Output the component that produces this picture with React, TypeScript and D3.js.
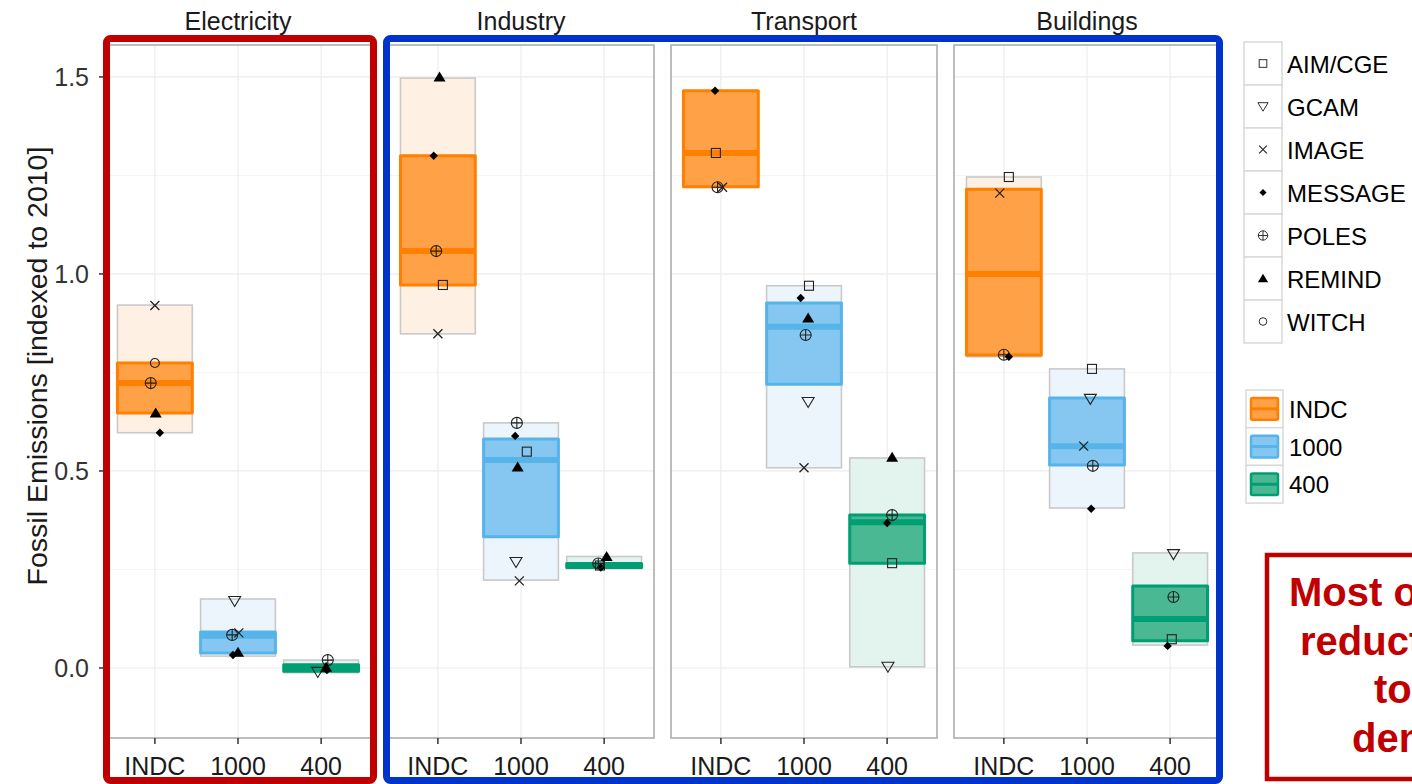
import React from 'react';
import * as d3 from 'd3';

// ---- data ----
const sectors = ['Electricity', 'Industry', 'Transport', 'Buildings'];
const scenarios = ['INDC', '1000', '400'];
const models = ['AIM/CGE', 'GCAM', 'IMAGE', 'MESSAGE', 'POLES', 'REMIND', 'WITCH'];
const yTicks = [0, 0.5, 1.0, 1.5];
const yMinor = [0.25, 0.75, 1.25];

// Box statistics per scenario (INDC, 1000, 400): [min, q1, median, q3, max]
const electricityBoxes = [
  [0.597, 0.647, 0.723, 0.774, 0.921],
  [0.03, 0.038, 0.082, 0.091, 0.175],
  [-0.012, -0.008, 0.0, 0.008, 0.02],
];
const industryBoxes = [
  [0.848, 0.972, 1.058, 1.3, 1.497],
  [0.223, 0.333, 0.528, 0.581, 0.622],
  [0.252, 0.255, 0.259, 0.265, 0.283],
];
const transportBoxes = [
  [1.22, 1.221, 1.307, 1.465, 1.465],
  [0.508, 0.72, 0.866, 0.926, 0.97],
  [0.003, 0.266, 0.37, 0.388, 0.533],
];
const buildingsBoxes = [
  [0.79, 0.794, 1.0, 1.215, 1.246],
  [0.406, 0.515, 0.563, 0.685, 0.759],
  [0.058, 0.069, 0.124, 0.208, 0.292],
];
const sectorBoxes = [electricityBoxes, industryBoxes, transportBoxes, buildingsBoxes];

// Model results: [scenario, model, value, jitter (fraction of a category step)]
type Pt = [string, string, number, number];
const electricityPoints: Pt[] = [
  ['INDC', 'IMAGE', 0.92, 0], ['INDC', 'WITCH', 0.774, 0], ['INDC', 'POLES', 0.723, -0.05],
  ['INDC', 'REMIND', 0.647, 0.01], ['INDC', 'MESSAGE', 0.597, 0.06],
  ['1000', 'GCAM', 0.17, -0.04], ['1000', 'IMAGE', 0.089, 0.01], ['1000', 'POLES', 0.084, -0.07],
  ['1000', 'REMIND', 0.04, 0.0], ['1000', 'MESSAGE', 0.033, -0.06],
  ['400', 'POLES', 0.02, 0.08], ['400', 'GCAM', -0.01, -0.04], ['400', 'MESSAGE', -0.005, 0.07],
  ['400', 'REMIND', 0.002, 0.06],
];
const industryPoints: Pt[] = [
  ['INDC', 'REMIND', 1.5, 0.02], ['INDC', 'MESSAGE', 1.3, -0.05], ['INDC', 'POLES', 1.058, -0.02],
  ['INDC', 'AIM/CGE', 0.972, 0.06], ['INDC', 'IMAGE', 0.848, 0],
  ['1000', 'POLES', 0.622, -0.05], ['1000', 'MESSAGE', 0.589, -0.07], ['1000', 'AIM/CGE', 0.549, 0.07],
  ['1000', 'REMIND', 0.51, -0.04], ['1000', 'GCAM', 0.269, -0.06], ['1000', 'IMAGE', 0.221, -0.02],
  ['400', 'AIM/CGE', 0.26, -0.05], ['400', 'MESSAGE', 0.255, -0.04], ['400', 'POLES', 0.265, -0.07],
  ['400', 'REMIND', 0.283, 0.03],
];
const transportPoints: Pt[] = [
  ['INDC', 'MESSAGE', 1.465, -0.07], ['INDC', 'AIM/CGE', 1.307, -0.06], ['INDC', 'POLES', 1.22, -0.04],
  ['INDC', 'IMAGE', 1.22, 0.02],
  ['1000', 'AIM/CGE', 0.97, 0.06], ['1000', 'MESSAGE', 0.939, -0.04], ['1000', 'REMIND', 0.888, 0.05],
  ['1000', 'POLES', 0.845, 0.02], ['1000', 'GCAM', 0.675, 0.05], ['1000', 'IMAGE', 0.508, 0],
  ['400', 'REMIND', 0.535, 0.06], ['400', 'POLES', 0.388, 0.06], ['400', 'MESSAGE', 0.368, 0],
  ['400', 'AIM/CGE', 0.266, 0.06], ['400', 'GCAM', 0.003, 0.01],
];
const buildingsPoints: Pt[] = [
  ['INDC', 'AIM/CGE', 1.246, 0.06], ['INDC', 'IMAGE', 1.205, -0.05], ['INDC', 'POLES', 0.795, 0],
  ['INDC', 'MESSAGE', 0.79, 0.06],
  ['1000', 'AIM/CGE', 0.759, 0.06], ['1000', 'GCAM', 0.683, 0.04], ['1000', 'IMAGE', 0.563, -0.04],
  ['1000', 'POLES', 0.513, 0.07], ['1000', 'MESSAGE', 0.404, 0.05],
  ['400', 'GCAM', 0.289, 0.04], ['400', 'POLES', 0.18, 0.04], ['400', 'AIM/CGE', 0.073, 0.02],
  ['400', 'MESSAGE', 0.056, -0.03],
];
const sectorPoints = [electricityPoints, industryPoints, transportPoints, buildingsPoints];

const annotationLines = ['Most of the emissions', 'reductions due', 'to lower', 'demand'];

// ---- styling ----
const FONT = '"Liberation Sans", Arial, Helvetica, sans-serif';
const strongColor: Record<string, string> = { INDC: '#FF7F00', '1000': '#56B4E9', '400': '#009E73' };
const boxFill: Record<string, string> = { INDC: '#FFA247', '1000': '#85C7F0', '400': '#4BB894' };
const rangeFill: Record<string, string> = { INDC: '#FEF0E3', '1000': '#EDF5FC', '400': '#E3F3EE' };

const W = 1412;
const H = 784;
const panelTop = 45;
const panelBottom = 738;
const panelLeft0 = 105;
const panelWidth = 266;
const panelGap = 17;
const INK = '#1a1a1a';

const y = d3.scaleLinear().domain([-0.1777, 1.581]).range([panelBottom, panelTop]);

function Marker({ model, x, cy, scale = 1 }: { model: string; x: number; cy: number; scale?: number }) {
  const s = scale;
  const stroke = '#222';
  const sw = 1.1;
  const t = `translate(${x},${cy}) scale(${s})`;
  switch (model) {
    case 'AIM/CGE':
      return <rect transform={t} x={-4.5} y={-4.5} width={9} height={9} fill="none" stroke={stroke} strokeWidth={sw} />;
    case 'GCAM':
      return <path transform={t} d="M-6,-4.5L6,-4.5L0,5.5Z" fill="none" stroke={stroke} strokeWidth={sw} />;
    case 'IMAGE':
      return <path transform={t} d="M-4.5,-4.5L4.5,4.5M-4.5,4.5L4.5,-4.5" fill="none" stroke={stroke} strokeWidth={sw + 0.2} />;
    case 'MESSAGE':
      return <path transform={t} d="M0,-4.2L4.2,0L0,4.2L-4.2,0Z" fill="#000" />;
    case 'POLES':
      return (
        <g transform={t} fill="none" stroke={stroke} strokeWidth={sw}>
          <circle r={5.5} />
          <path d="M-5.5,0L5.5,0M0,-5.5L0,5.5" />
        </g>
      );
    case 'REMIND':
      return <path transform={t} d="M-6,4.5L6,4.5L0,-5.5Z" fill="#000" />;
    case 'WITCH':
      return <circle transform={t} r={4.5} fill="none" stroke={stroke} strokeWidth={sw} />;
    default:
      return null;
  }
}

function Panel({ index }: { index: number }) {
  const x0 = panelLeft0 + index * (panelWidth + panelGap);
  const x = d3.scalePoint<string>().domain(scenarios).range([x0, x0 + panelWidth]).padding(0.6);
  const step = x.step();
  const bw = step * 0.9;
  const boxes = sectorBoxes[index];
  const pts = sectorPoints[index];
  return (
    <g>
      <rect x={x0} y={panelTop} width={panelWidth} height={panelBottom - panelTop} fill="#fff" />
      {yMinor.map((v) => (
        <line key={'mn' + v} x1={x0} x2={x0 + panelWidth} y1={y(v)} y2={y(v)} stroke="#f5f5f5" strokeWidth={1} />
      ))}
      {yTicks.map((v) => (
        <line key={'mj' + v} x1={x0} x2={x0 + panelWidth} y1={y(v)} y2={y(v)} stroke="#ececec" strokeWidth={1.2} />
      ))}
      {scenarios.map((s) => (
        <line key={'vx' + s} x1={x(s)!} x2={x(s)!} y1={panelTop} y2={panelBottom} stroke="#ececec" strokeWidth={1.2} />
      ))}
      {scenarios.map((s, i) => {
        const [mn, q1, md, q3, mx] = boxes[i];
        const cx = x(s)!;
        return (
          <g key={'bx' + s}>
            <rect x={cx - bw / 2} y={y(mx)} width={bw} height={Math.max(1, y(mn) - y(mx))}
              fill={rangeFill[s]} stroke="#c9c9c9" strokeWidth={1.6} />
            <rect x={cx - bw / 2} y={y(q3)} width={bw} height={Math.max(1, y(q1) - y(q3))}
              fill={boxFill[s]} stroke={strongColor[s]} strokeWidth={3} strokeLinejoin="round" />
            <line x1={cx - bw / 2} x2={cx + bw / 2} y1={y(md)} y2={y(md)} stroke={strongColor[s]} strokeWidth={6} />
          </g>
        );
      })}
      {pts.map(([s, m, v, j], k) => (
        <Marker key={'pt' + k} model={m} x={x(s)! + j * step} cy={y(v)} />
      ))}
      <rect x={x0} y={panelTop} width={panelWidth} height={panelBottom - panelTop} fill="none" stroke="#a8a8a8" strokeWidth={1.5} />
      <text x={x0 + panelWidth / 2} y={30} textAnchor="middle" fontSize={25} fill={INK} fontFamily={FONT}>
        {sectors[index]}
      </text>
      {scenarios.map((s) => (
        <g key={'xt' + s}>
          <line x1={x(s)!} x2={x(s)!} y1={panelBottom} y2={panelBottom + 6} stroke="#333" strokeWidth={1.5} />
          <text x={x(s)!} y={775} textAnchor="middle" fontSize={25} fill={INK} fontFamily={FONT}>
            {s}
          </text>
        </g>
      ))}
    </g>
  );
}

export default function App() {
  const shapeKeyTop = 42;
  const shapeKeyH = 43;
  const shapeKeyX = 1244;
  const fillKeyTop = 390;
  const fillKeyH = 37.7;
  const fillKeyX = 1246;
  return (
    <svg width={W} height={H} style={{ position: 'absolute', left: 0, top: 0, background: '#fff' }}
      fontFamily={FONT}>
      <rect width={W} height={H} fill="#fff" />
      {/* y axis */}
      {yTicks.map((v) => (
        <g key={'yt' + v}>
          <line x1={99} x2={105} y1={y(v)} y2={y(v)} stroke="#333" strokeWidth={1.5} />
          <text x={89} y={y(v) + 9} textAnchor="end" fontSize={25} fill="#333">
            {d3.format('.1f')(v)}
          </text>
        </g>
      ))}
      <text transform={`translate(47,366) rotate(-90)`} textAnchor="middle" fontSize={28.5} fill={INK}>
        Fossil Emissions [indexed to 2010]
      </text>

      {sectors.map((_, i) => (
        <Panel key={i} index={i} />
      ))}

      {/* highlight frames */}
      <rect x={106.5} y={38.5} width={267} height={742} rx={4} fill="none" stroke="#C00000" strokeWidth={7} />
      <rect x={386.5} y={38.5} width={833} height={742} rx={4} fill="none" stroke="#0033CC" strokeWidth={7} />

      {/* model shape legend */}
      {models.map((m, i) => {
        const ky = shapeKeyTop + i * shapeKeyH;
        return (
          <g key={'lg' + m}>
            <rect x={shapeKeyX} y={ky} width={38} height={shapeKeyH} fill="#fff" stroke="#d9d9d9" strokeWidth={1.5} />
            <Marker model={m} x={shapeKeyX + 19} cy={ky + shapeKeyH / 2} scale={0.85} />
            <text x={1287} y={ky + shapeKeyH / 2 + 9} fontSize={24} fill="#000">
              {m}
            </text>
          </g>
        );
      })}

      {/* scenario fill legend */}
      {scenarios.map((s, i) => {
        const ky = fillKeyTop + i * fillKeyH;
        return (
          <g key={'lf' + s}>
            <rect x={fillKeyX} y={ky} width={37} height={fillKeyH} fill="#fff" stroke="#d9d9d9" strokeWidth={1.5} />
            <rect x={fillKeyX + 5} y={ky + 8} width={27} height={fillKeyH - 16} rx={1.5} fill={boxFill[s]}
              stroke={strongColor[s]} strokeWidth={2.5} />
            <line x1={fillKeyX + 5} x2={fillKeyX + 32} y1={ky + fillKeyH / 2} y2={ky + fillKeyH / 2}
              stroke={strongColor[s]} strokeWidth={3} />
            <text x={1289} y={ky + fillKeyH / 2 + 9} fontSize={24} fill="#000">
              {s}
            </text>
          </g>
        );
      })}

      {/* annotation */}
      <rect x={1267} y={555} width={380} height={224} fill="#fff" stroke="#C00000" strokeWidth={4.5} />
      {annotationLines.map((line, i) => (
        <text key={'an' + i} x={[1289, 1300, 1374, 1352][i]} y={606 + i * 48.5} fontSize={40} fontWeight="bold"
          fill="#C00000">
          {line}
        </text>
      ))}
    </svg>
  );
}
